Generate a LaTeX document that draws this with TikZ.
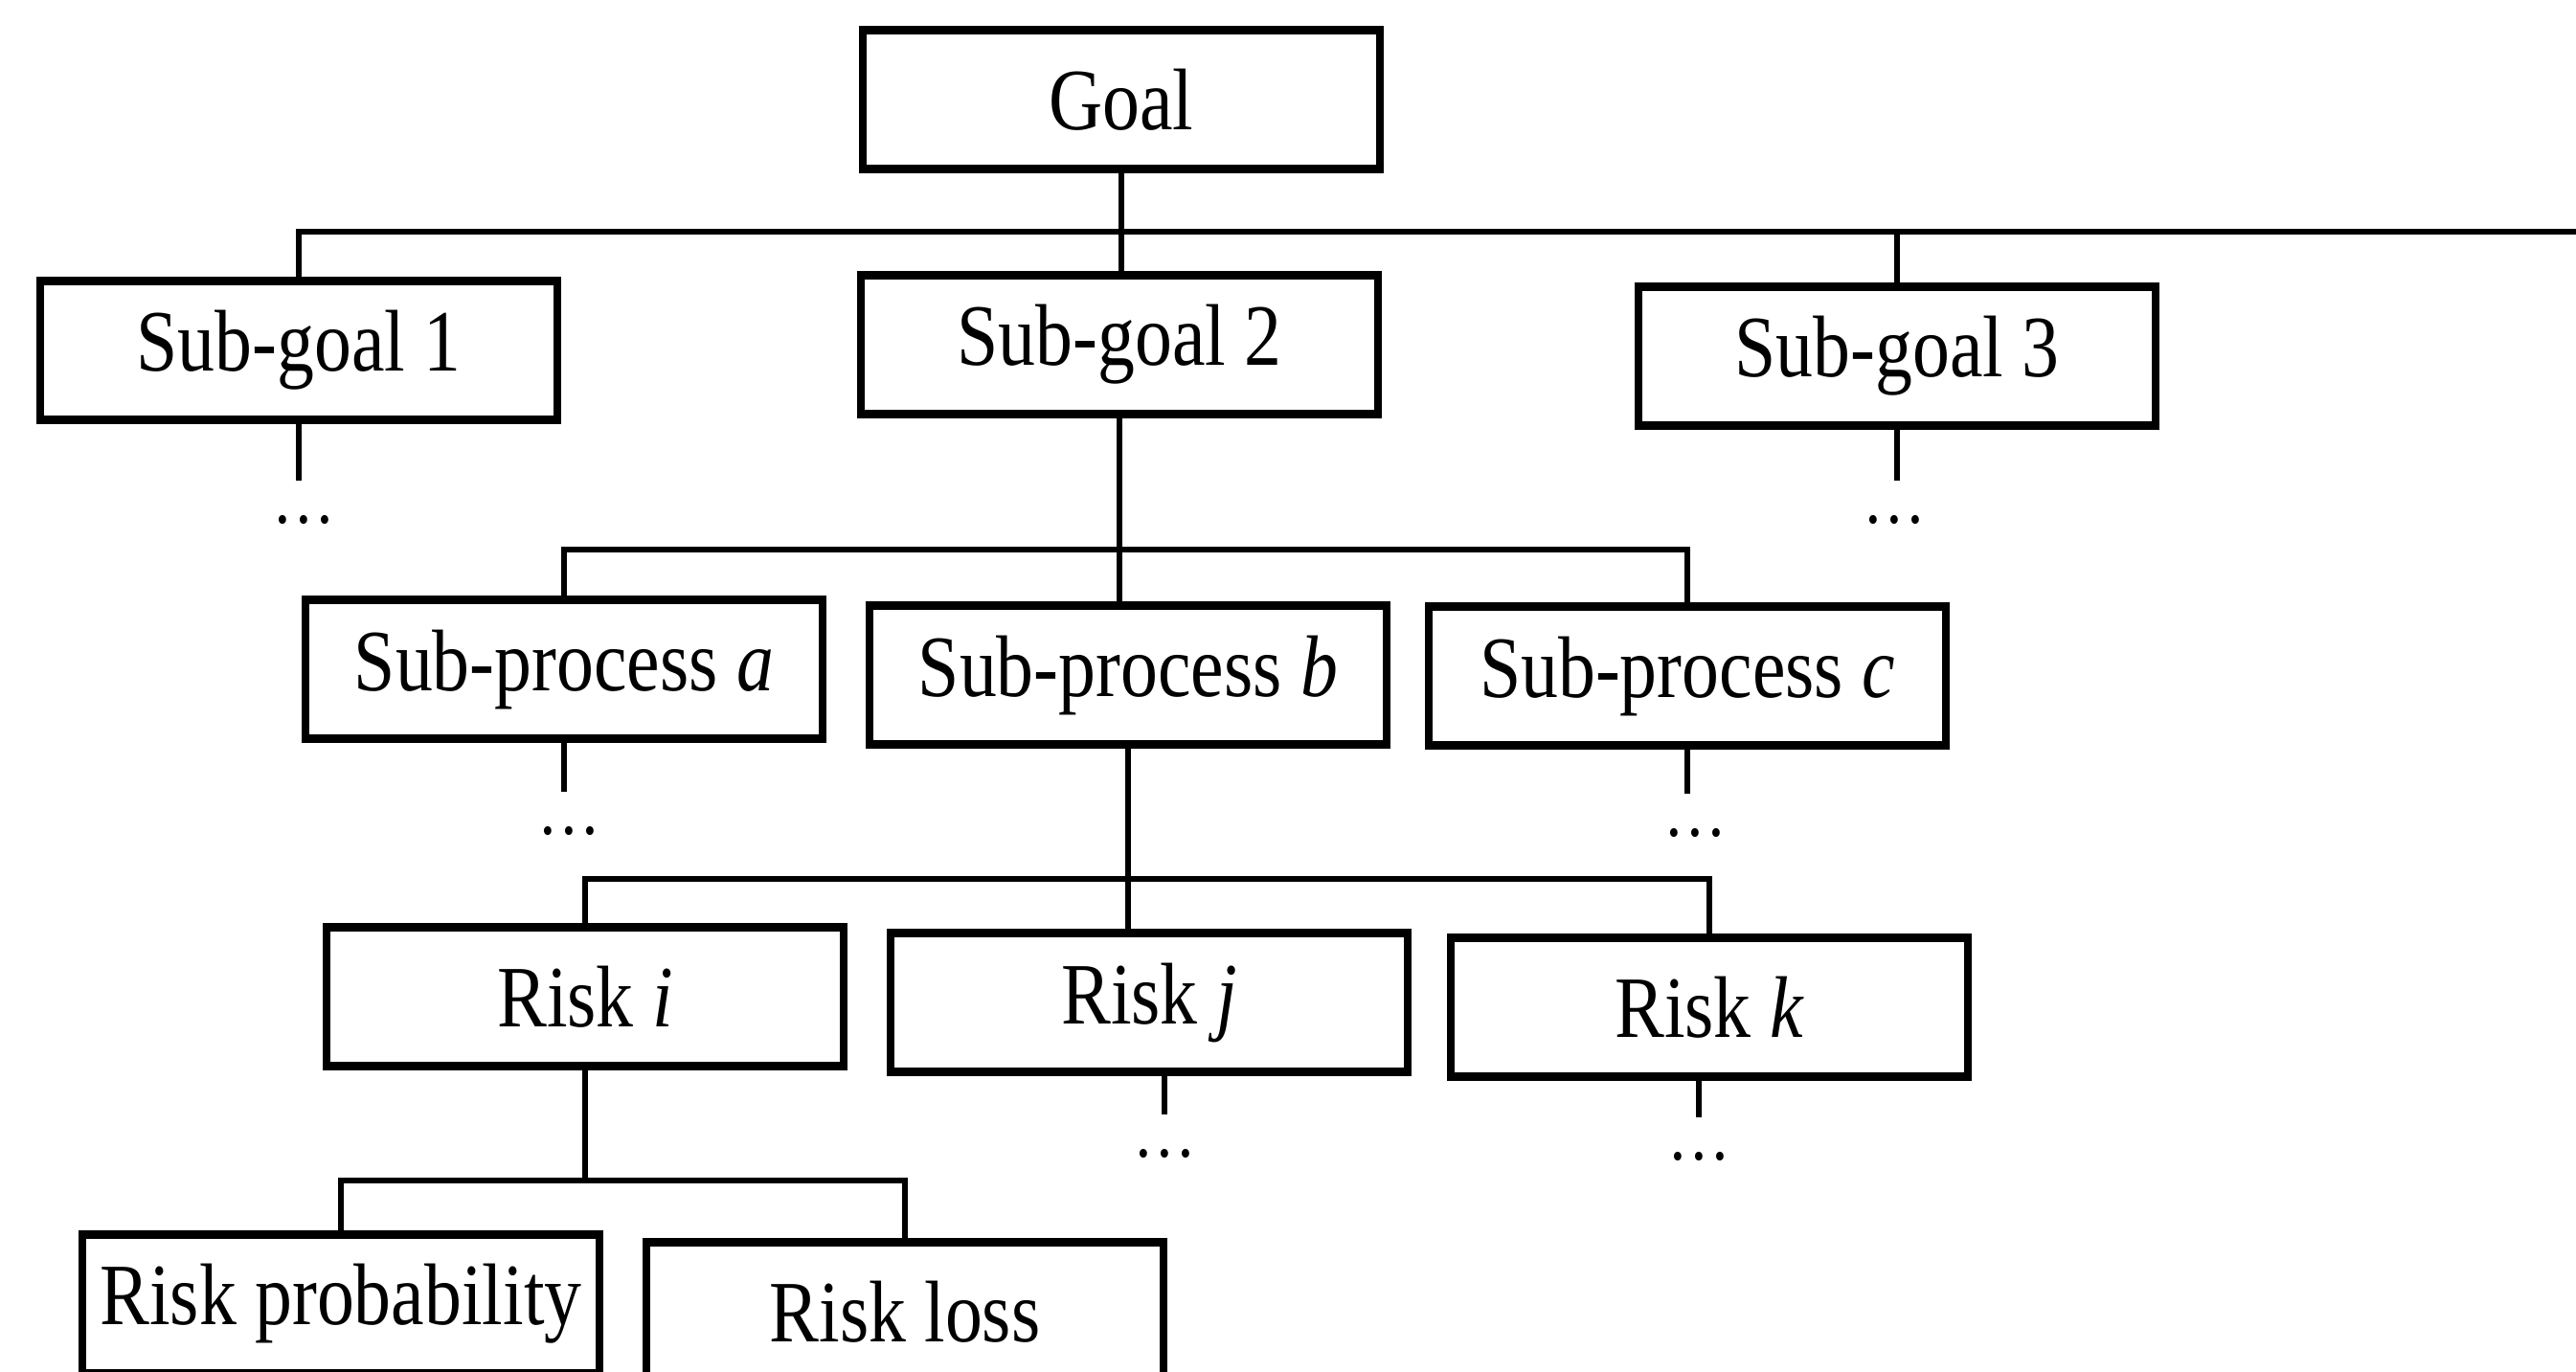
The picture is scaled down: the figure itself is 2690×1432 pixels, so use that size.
\documentclass[tikz,border=0pt]{standalone}
\usepackage{fontspec}
\setmainfont{Liberation Serif}[FakeStretch=0.85]
\usepackage{tikz}
\usetikzlibrary{positioning}

\begin{document}
\begin{tikzpicture}[
    x=0.01cm, y=-0.01cm,
    box/.style={draw, rectangle, line width=2.4pt, minimum width=5.40cm, minimum height=1.45cm, inner sep=0pt, align=center, font=\fontsize{26}{30}\selectfont},
    link/.style={line width=1.8pt},
    more/.style={inner xsep=0pt, inner ysep=0.36cm, font=\fontsize{22}{24}\selectfont}
]
    \useasboundingbox (0,0) rectangle (2690,1432);
    \clip (0,0) rectangle (2690,1432);

    % Levels
    \node[box] (goal) at (1171,104) {Goal};
    \node[box] (sg1) at (312,366) {Sub-goal 1};
    \node[box] (sg2) at (1169,360) {Sub-goal 2};
    \node[box] (sg3) at (1981,372) {Sub-goal 3};
    \node[box] (spa) at (589,699) {Sub-process \textit{a}};
    \node[box] (spb) at (1178,705) {Sub-process \textit{b}};
    \node[box] (spc) at (1762,706) {Sub-process \textit{c}};
    \node[box] (ri) at (611,1041) {Risk \textit{i}};
    \node[box] (rj) at (1200,1047) {Risk \textit{j}};
    \node[box] (rk) at (1785,1052) {Risk \textit{k}};
    \node[box] (rp) at (356,1362) {Risk probability};
    \node[box] (rl) at (945,1370) {Risk loss};

    % Omitted branches
    \node[more] (m1) at (317,543) {…};
    \node[more] (m3) at (1978,543) {…};
    \node[more] (ma) at (594,868) {…};
    \node[more] (mc) at (1770,870) {…};
    \node[more] (mj) at (1216,1205) {…};
    \node[more] (mk) at (1774,1208) {…};

    % Buses
    \coordinate (bus1) at (2690,242);
    \coordinate (bus2) at (0,574);
    \coordinate (bus3) at (0,918);
    \coordinate (bus4) at (0,1233);

    % Connectors
    \draw[link] (sg1.north) |- (bus1);
    \draw[link] (goal.south) -- (goal.south |- sg2.north);
    \draw[link] (sg3.north) -- (sg3.north |- bus1);
    \draw[link] (spa.north) |- (bus2 -| spc.north) -- (spc.north);
    \draw[link] (sg2.south) -- (sg2.south |- spb.north);
    \draw[link] (ri.north) |- (bus3 -| rk.north) -- (rk.north);
    \draw[link] (spb.south) -- (spb.south |- rj.north);
    \draw[link] (rp.north) |- (bus4 -| rl.north) -- (rl.north);
    \draw[link] (ri.south) -- (ri.south |- bus4);

    \draw[link] (sg1.south) -- (sg1.south |- m1.north);
    \draw[link] (sg3.south) -- (sg3.south |- m3.north);
    \draw[link] (spa.south) -- (spa.south |- ma.north);
    \draw[link] (spc.south) -- (spc.south |- mc.north);
    \draw[link] (rj.south -| mj) -- (mj.north);
    \draw[link] (rk.south -| mk) -- (mk.north);

\end{tikzpicture}
\end{document}
